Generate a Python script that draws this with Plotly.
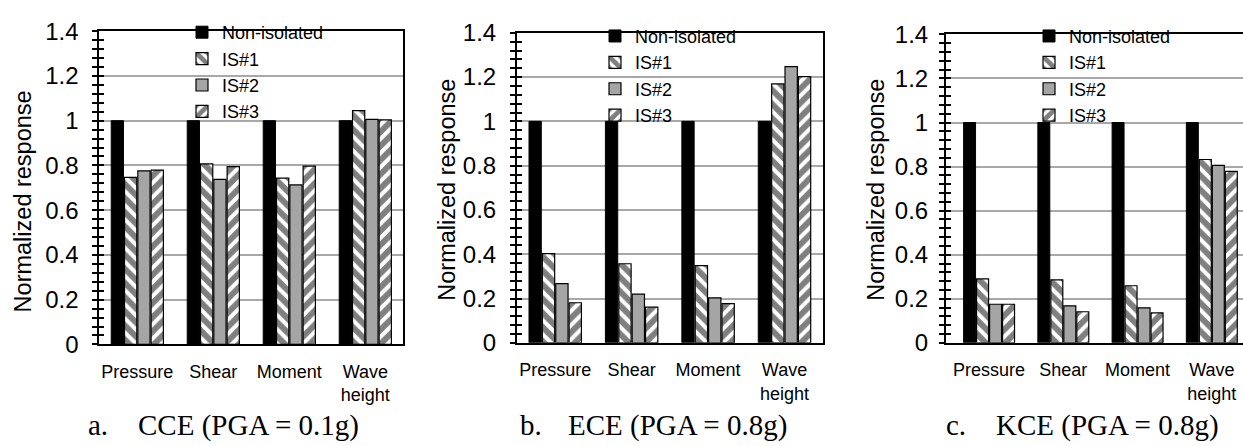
import plotly.graph_objects as go

W, H = 1243, 446

categories = ["Pressure", "Shear", "Moment", "Wave<br>height"]
series_names = ["Non-isolated", "IS#1", "IS#2", "IS#3"]

# panel a: CCE (PGA = 0.1g)
cce_non = [1.0, 1.0, 1.0, 1.0]
cce_is1 = [0.747, 0.807, 0.743, 1.045]
cce_is2 = [0.776, 0.738, 0.713, 1.006]
cce_is3 = [0.779, 0.795, 0.797, 1.004]

# panel b: ECE (PGA = 0.8g)
ece_non = [1.0, 1.0, 1.0, 1.0]
ece_is1 = [0.403, 0.357, 0.349, 1.169]
ece_is2 = [0.267, 0.220, 0.203, 1.247]
ece_is3 = [0.181, 0.161, 0.177, 1.202]

# panel c: KCE (PGA = 0.8g)
kce_non = [1.0, 1.0, 1.0, 1.0]
kce_is1 = [0.290, 0.286, 0.259, 0.832]
kce_is2 = [0.175, 0.168, 0.159, 0.805]
kce_is3 = [0.175, 0.141, 0.136, 0.778]

captions_letter = ["a.", "b.", "c."]
captions_text = ["CCE (PGA = 0.1g)", "ECE (PGA = 0.8g)", "KCE (PGA = 0.8g)"]
y_title = "Normalized response"
y_ticks = [0, 0.2, 0.4, 0.6, 0.8, 1.0, 1.2, 1.4]
y_ticktext = ["0", "0.2", "0.4", "0.6", "0.8", "1", "1.2", "1.4"]

panels = [
    [cce_non, cce_is1, cce_is2, cce_is3],
    [ece_non, ece_is1, ece_is2, ece_is3],
    [kce_non, kce_is1, kce_is2, kce_is3],
]

SANS = "Liberation Sans, Arial, sans-serif"
SERIF = "Liberation Serif, Times New Roman, serif"

styles = [
    dict(color="black", line=dict(color="black", width=1)),
    dict(color="white", line=dict(color="black", width=1.2),
         pattern=dict(shape="\\", fgcolor="black", bgcolor="white", size=10, solidity=0.6)),
    dict(color="#a5a5a5", line=dict(color="black", width=1.2)),
    dict(color="white", line=dict(color="black", width=1.2),
         pattern=dict(shape="/", fgcolor="black", bgcolor="white", size=10, solidity=0.6)),
]

# pixel geometry of plot areas: (left, right, top, bottom)
geo = [
    (99.3, 403.3, 18.3, 351.7),
    (517.0, 822.7, 20.0, 350.0),
    (946.0, 1243.0, 21.7, 350.0),
]
xranges = [[-0.5, 3.5], [-0.5, 3.5], [-0.58, 3.42]]
legend_pos = [(182, 0), (595, 4), (1029, 4)]
ytitle_pos = [(22.5, 200), (447, 187), (876, 187)]
caption_pos = [(86, 136), (518, 566), (944, 994)]
label_standoff = [9, 9, 6]

fig = go.Figure()
layout = dict(
    width=W, height=H,
    margin=dict(l=0, r=0, t=0, b=0),
    paper_bgcolor="white", plot_bgcolor="white",
    barmode="group", bargap=0.3, bargroupgap=0.08,
    font=dict(family=SANS, color="black"),
    annotations=[],
)

for p in range(3):
    sfx = "" if p == 0 else str(p + 1)
    xa, ya = "x" + sfx, "y" + sfx
    leg = "legend" + sfx
    for s in range(4):
        fig.add_trace(go.Bar(
            x=categories, y=panels[p][s], name=series_names[s],
            marker=styles[s], xaxis=xa, yaxis=ya, legend=leg,
        ))
    l, r, t, b = geo[p]
    xd = [l / W, min(r / W, 1.0)]
    yd = [1 - b / H, 1 - t / H]
    layout["xaxis" + sfx] = dict(
        domain=xd, range=xranges[p], anchor=ya,
        showline=True, linecolor="black", linewidth=2, mirror=True,
        ticks="", showgrid=False,
        tickfont=dict(size=18, family=SANS, color="black"),
        ticklabelstandoff=10,
    )
    layout["yaxis" + sfx] = dict(
        domain=yd, range=[0, 1.4], anchor=xa,
        tickvals=y_ticks, ticktext=y_ticktext,
        showline=True, linecolor="black", linewidth=2, mirror=(p < 2),
        ticks="outside", ticklen=5, tickwidth=2, tickcolor="black",
        minor=dict(ticks="outside", ticklen=5, tickwidth=2, tickcolor="black", dtick=0.04, showgrid=False),
        showgrid=True, gridcolor="#a8a8a8", gridwidth=1.5,
        zeroline=False,
        tickfont=dict(size=24, family=SANS, color="black"),
        ticklabelstandoff=label_standoff[p],
    )
    # overlay axis for ticks crossing the axis (inside part)
    ov = "yaxis" + str(p + 4)
    layout[ov] = dict(
        overlaying=ya, anchor=xa, side="left", range=[0, 1.4],
        tickvals=y_ticks, showticklabels=False,
        showline=False, showgrid=False, zeroline=False,
        ticks="inside", ticklen=5, tickwidth=2, tickcolor="black",
        minor=dict(ticks="inside", ticklen=5, tickwidth=2, tickcolor="black", dtick=0.04, showgrid=False),
    )
    fig.add_trace(go.Bar(x=[], y=[], xaxis=xa, yaxis="y" + str(p + 4), showlegend=False, hoverinfo="skip"))
    lx, ly = legend_pos[p]
    layout[leg] = dict(
        x=lx / W, y=1 - ly / H, xanchor="left", yanchor="top",
        bgcolor="rgba(0,0,0,0)", borderwidth=0,
        font=dict(size=18, family=SANS, color="black"),
        tracegroupgap=0, traceorder="normal",
    )
    tx, ty = ytitle_pos[p]
    layout["annotations"].append(dict(
        text=y_title, x=tx / W, y=1 - ty / H, xref="paper", yref="paper",
        textangle=-90, showarrow=False, xanchor="center", yanchor="middle",
        font=dict(size=23.5, family=SANS, color="black"),
    ))
    cx1, cx2 = caption_pos[p]
    layout["annotations"].append(dict(
        text=captions_letter[p], x=cx1 / W, y=1 - 438 / H, xref="paper", yref="paper",
        showarrow=False, xanchor="left", yanchor="middle",
        font=dict(size=29, family=SERIF, color="black"),
    ))
    layout["annotations"].append(dict(
        text=captions_text[p], x=cx2 / W, y=1 - 438 / H, xref="paper", yref="paper",
        showarrow=False, xanchor="left", yanchor="middle",
        font=dict(size=29, family=SERIF, color="black"),
    ))

fig.update_layout(**layout)
fig.write_html("out.html")
